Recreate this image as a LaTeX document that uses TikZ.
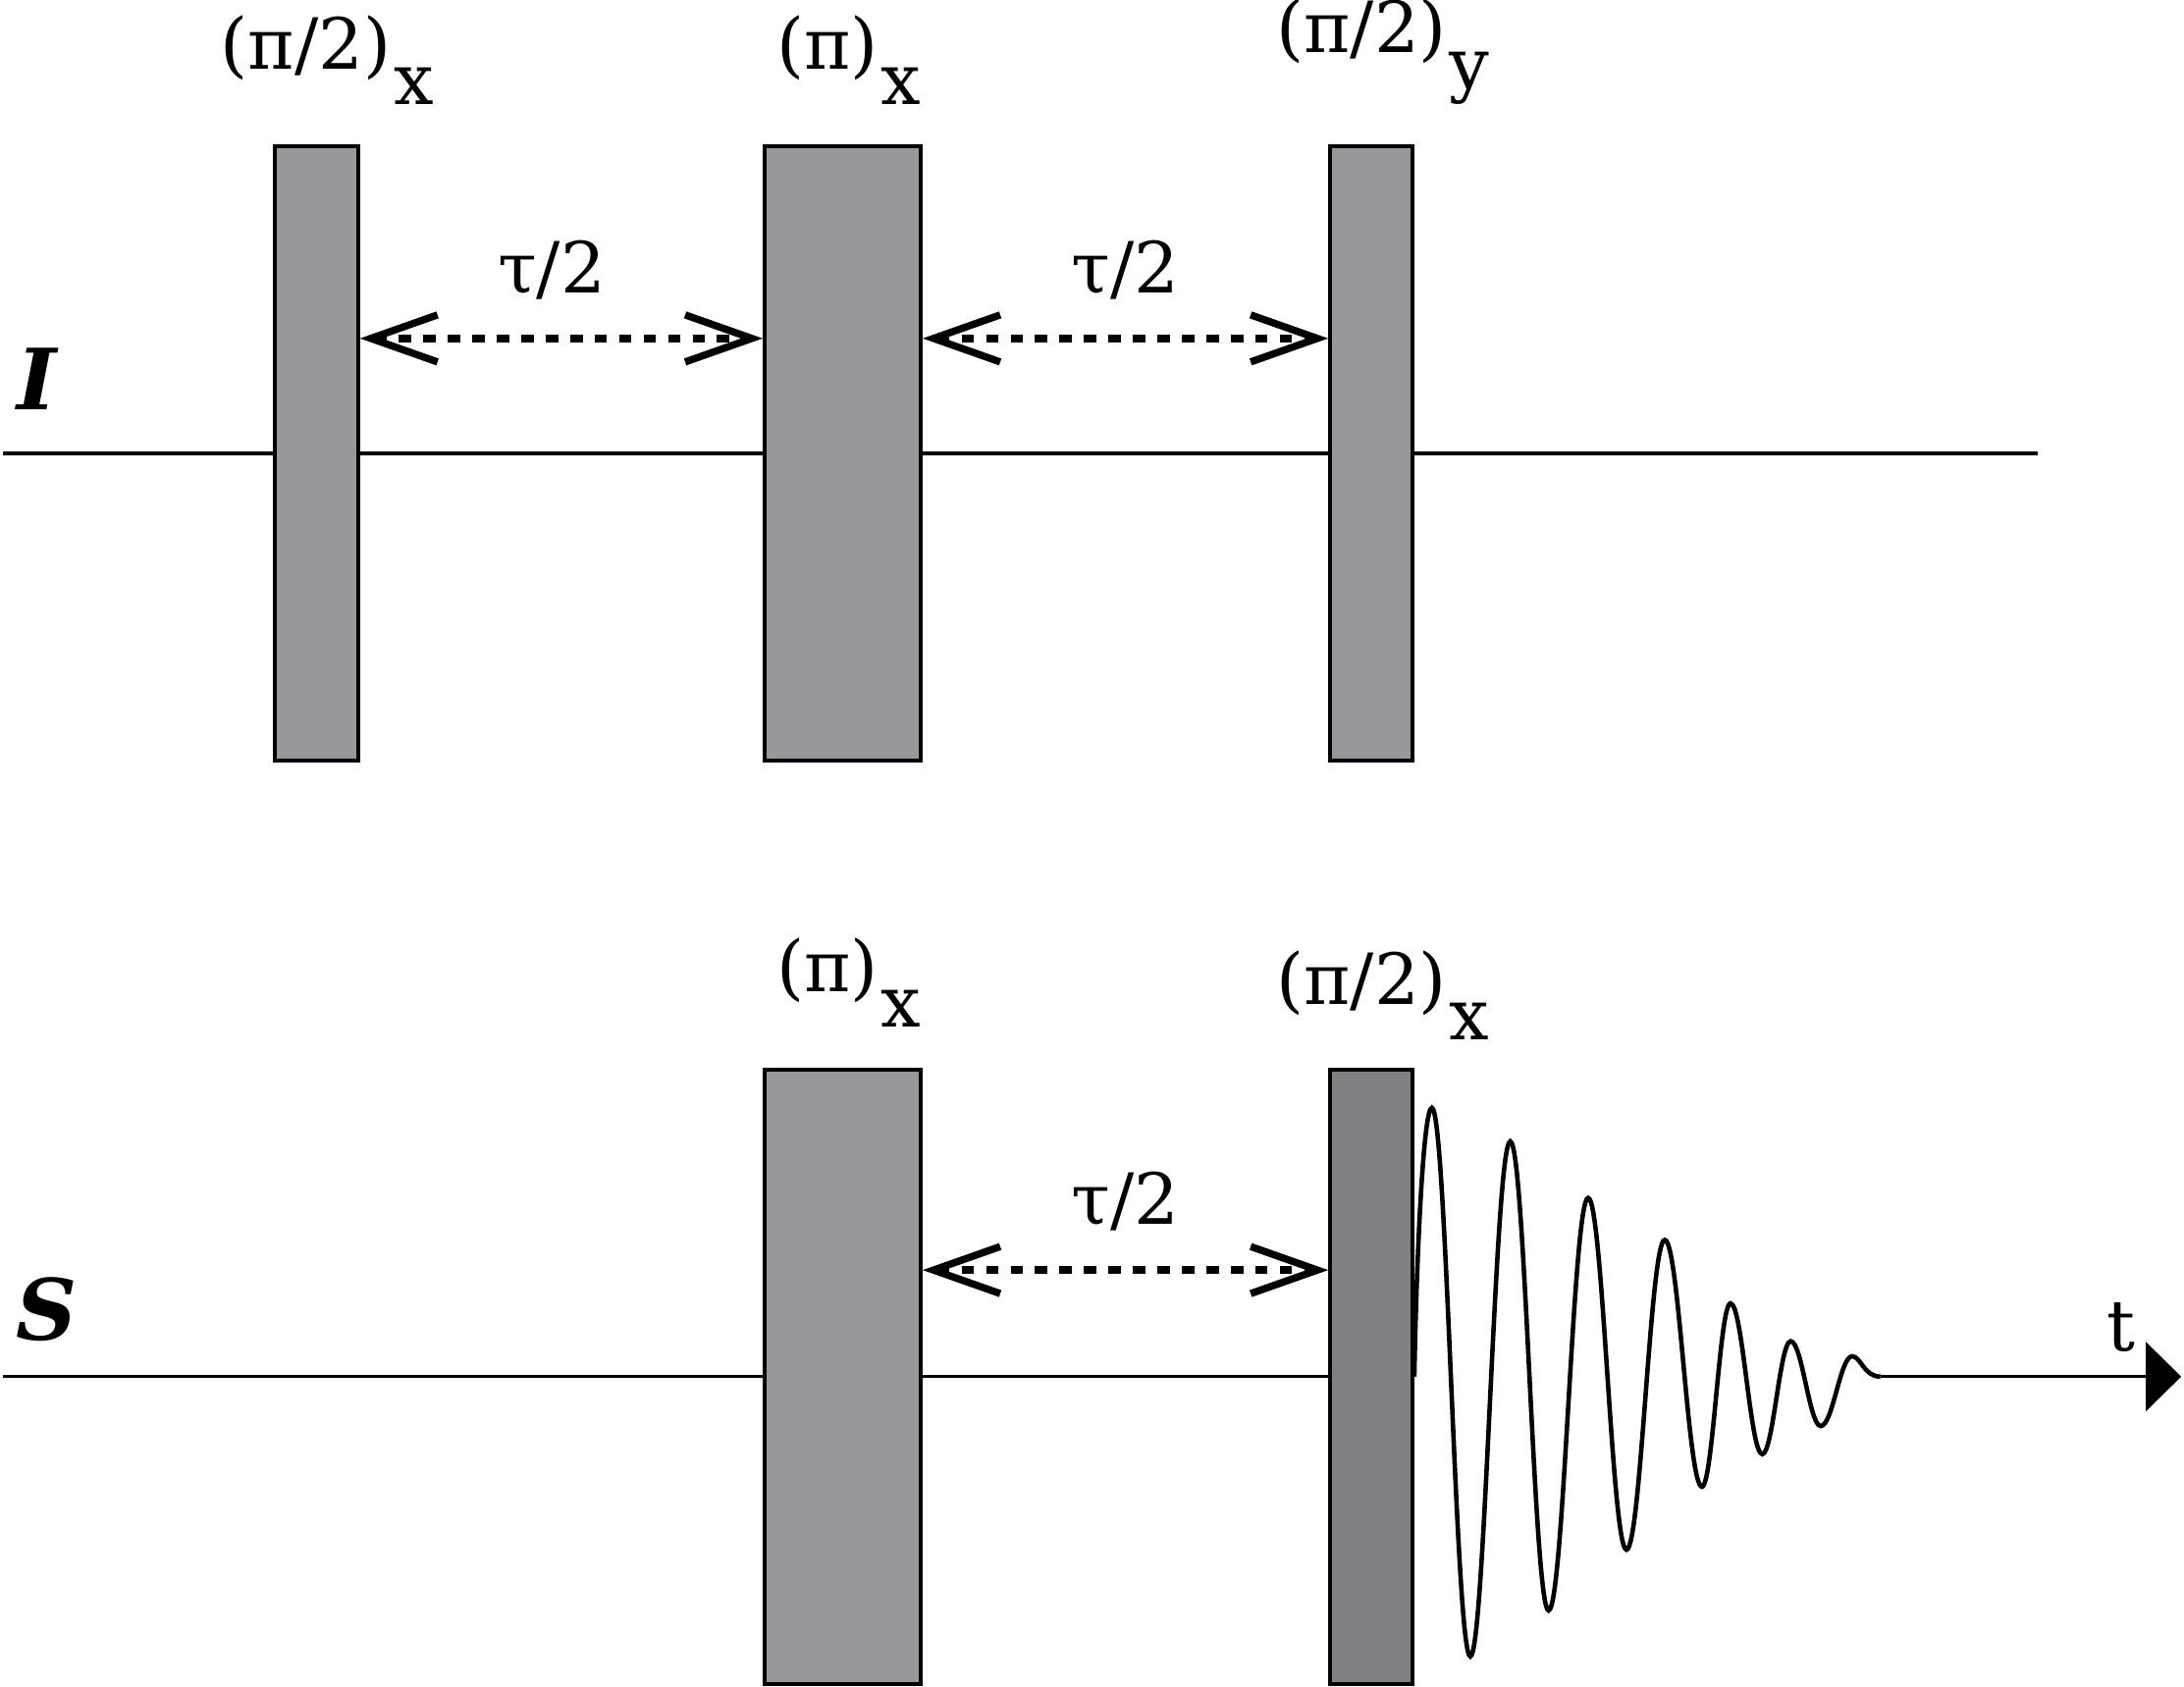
\documentclass[tikz,border=0pt]{standalone}
\usepackage{fontspec}
\setmainfont{DejaVu Serif}
\usetikzlibrary{arrows.meta}
\definecolor{pulselight}{HTML}{97989C}
\definecolor{pulsedark}{HTML}{808185}
\tikzset{
  pulse/.style={draw=black, line width=1.15pt, fill=pulselight, inner sep=0pt,
    minimum height={441*0.0142cm}},
  narrow/.style={minimum width={60*0.0142cm}},
  wide/.style={minimum width={112*0.0142cm}},
  axisline/.style={line width=0.95pt},
  fid/.style={line width=1.3pt},
  tau/.style={line width=2.2pt, dash pattern=on 3.6pt off 3.5pt,
    {Straight Barb[length=0.68cm,width=0.48cm,line width=2.1pt]}-{Straight Barb[length=0.68cm,width=0.48cm,line width=2.1pt]}},
  lab/.style={inner sep=0pt, anchor=base west, font=\fontsize{20.5}{24}\selectfont},
  taulab/.style={inner sep=0pt, anchor=base, font=\fontsize{20.5}{24}\selectfont},
  chan/.style={inner sep=0pt, anchor=base west, font=\fontsize{24.5}{29}\selectfont\bfseries\itshape},
}
\newcommand{\lowsub}[1]{\hspace{0.8pt}\raisebox{-0.365cm}{#1}}
\begin{document}
\begin{tikzpicture}[x=0.0142cm, y=-0.0142cm]
\useasboundingbox (0,0) rectangle (1568,1211);
% coordinates for the channel lines
\coordinate (I0) at (2,325.5);
\coordinate (I1) at (1463,325.5);
\coordinate (S0) at (2,988.5);
\coordinate (S1) at (984.5,988.5);
\coordinate (fidend) at (1350,988.5);
\coordinate (Send) at (1566,988.5);
% channel lines (behind pulses)
\draw[axisline] (I0) -- (I1);
\draw[axisline] (S0) -- (S1);
% pulses
\node[pulse, narrow] (p1) at (227,325.5) {};
\node[pulse, wide] (p2) at (605,325.5) {};
\node[pulse, narrow, minimum width={59*0.0142cm}] (p3) at (984.5,325.5) {};
\node[pulse, wide] (p4) at (605,988.5) {};
\node[pulse, narrow, minimum width={59*0.0142cm}, fill=pulsedark] (p5) at (984.5,988.5) {};
% pulse labels
\node[lab] (l1) at (158,49.5) {(π/2)\lowsub{x}};
\node[lab] (l2) at (557,49.5) {(π)\lowsub{x}};
\node[lab] (l3) at (916,38) {(π/2)\lowsub{y}};
\node[lab] (l4) at (557,712) {(π)\lowsub{x}};
\node[lab] (l5) at (916,721) {(π/2)\lowsub{x}};
% delays
\draw[tau] ([yshift={82.5*0.0142cm}]p1.east) -- ([yshift={82.5*0.0142cm}]p2.west);
\draw[tau] ([yshift={82.5*0.0142cm}]p2.east) -- ([yshift={82.5*0.0142cm}]p3.west);
\draw[tau] ([yshift={76.5*0.0142cm}]p4.east) -- ([yshift={76.5*0.0142cm}]p5.west);
\node[taulab] (t1) at (396,210) {τ/2};
\node[taulab] (t2) at (808,210) {τ/2};
\node[taulab] (t3) at (808,879) {τ/2};
% channel names
\node[chan] (chI) at (12,294.5) {I};
\node[chan] (chS) at (11,962) {S};
% FID
\draw[fid] (p5.east) .. controls (1017,900) and (1022,795.5) .. (1028,795.5)
 .. controls (1038.5,795.5) and (1045.1,1189.4) .. (1055.6,1189.4)
 .. controls (1066.1,1189.4) and (1073.4,819.6) .. (1084.3,819.6)
 .. controls (1094.8,819.6) and (1101.3,1156.4) .. (1111.8,1156.4)
 .. controls (1122.6,1156.4) and (1129.4,860.2) .. (1140.2,860.2)
 .. controls (1150.6,860.2) and (1157.3,1112.8) .. (1167.7,1112.8)
 .. controls (1178.1,1112.8) and (1184.8,890.3) .. (1195.2,890.3)
 .. controls (1205.3,890.3) and (1211.8,1067.6) .. (1221.9,1067.6)
 .. controls (1229.7,1067.6) and (1234.6,935.9) .. (1242.4,935.9)
 .. controls (1251.1,935.9) and (1256.5,1044.2) .. (1265.2,1044.2)
 .. controls (1273,1044.2) and (1277.8,963.1) .. (1285.6,963.1)
 .. controls (1293.8,963.1) and (1299,1024) .. (1307.2,1024)
 .. controls (1315.8,1024) and (1321.1,973.9) .. (1329.7,973.9)
 .. controls (1336,973.9) and (1338,988.5) .. (fidend);
\draw[axisline, -{Triangle[length=0.36cm,width=0.7cm]}] (fidend) -- (Send);
\node[lab] (tlab) at (1512,970) {t};
\end{tikzpicture}
\end{document}
